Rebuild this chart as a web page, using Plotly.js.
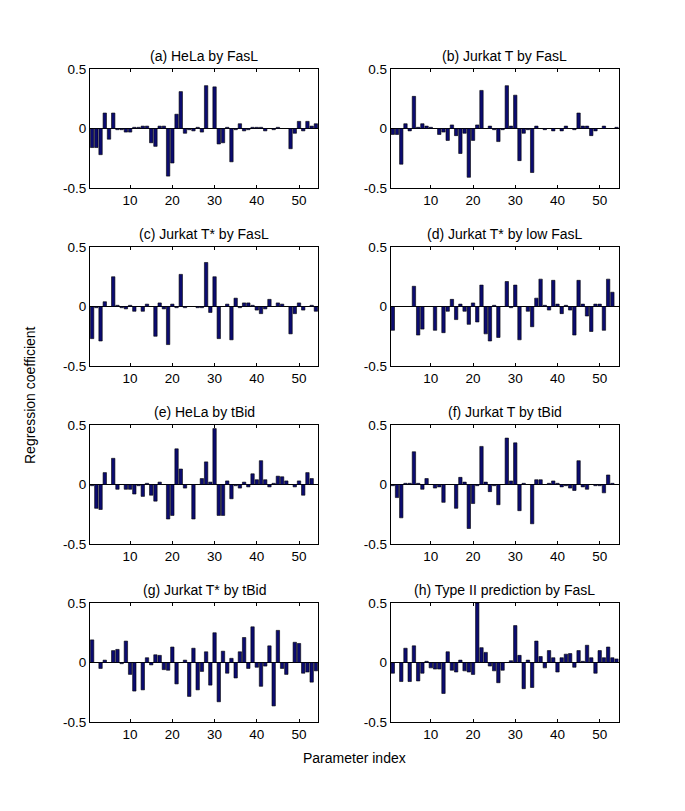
<!DOCTYPE html>
<html>
<head>
<meta charset="utf-8">
<script src="https://cdn.plot.ly/plotly-3.0.1.min.js"></script>
<style>html,body{margin:0;padding:0;background:#fff;}#chart{width:685px;height:811px;}</style>
</head>
<body>
<div id="chart"></div>
<script>
// Parameter indices 1..54
const paramIndex = Array.from({length: 54}, (_, i) => i + 1);

const titles = [
  "(a) HeLa by FasL", "(b) Jurkat T by FasL",
  "(c) Jurkat T* by FasL", "(d) Jurkat T* by low FasL",
  "(e) HeLa by tBid", "(f) Jurkat T by tBid",
  "(g) Jurkat T* by tBid", "(h) Type II prediction by FasL"
];

const helaFasL = [-0.16,-0.16,-0.22,0.13,-0.09,0.13,-0.01,-0.01,-0.03,-0.03,
  0.01,0.01,0.02,0.02,-0.12,-0.15,0.02,0.02,-0.40,-0.29,
  0.12,0.31,-0.04,-0.01,-0.02,0.01,-0.03,0.36,0.0,0.35,
  -0.13,-0.12,0.01,-0.28,-0.01,0.04,-0.02,-0.01,0.01,0.01,
  0.01,-0.02,0.0,-0.01,0.01,0.0,0.0,-0.17,-0.04,0.06,
  -0.02,0.06,0.02,0.04];

const jurkatFasL = [-0.05,-0.05,-0.30,0.04,-0.02,0.27,0.01,0.04,0.02,0.01,
  0.0,-0.05,-0.03,-0.10,0.03,-0.06,-0.21,-0.04,-0.41,-0.10,
  0.03,0.32,0.0,0.02,-0.01,-0.11,-0.01,0.36,0.02,0.28,
  -0.27,-0.04,-0.01,-0.37,0.02,0.0,-0.01,0.0,-0.02,0.0,
  -0.02,0.02,0.0,-0.01,0.13,0.02,0.02,-0.06,-0.02,0.0,
  0.02,0.0,0.0,0.01];

const jurkatStarFasL = [-0.27,-0.01,-0.29,0.04,0.0,0.25,0.01,-0.01,-0.02,0.01,
  -0.04,0.0,-0.04,0.02,0.0,-0.25,0.03,-0.02,-0.32,0.02,
  -0.01,0.27,-0.01,0.0,0.0,-0.01,-0.01,0.37,-0.05,0.25,
  -0.27,0.0,0.02,-0.28,0.07,-0.01,0.03,0.03,0.01,-0.03,
  -0.06,-0.02,0.06,0.0,0.03,0.02,0.0,-0.23,-0.06,0.03,
  -0.03,0.0,0.01,-0.04];

const jurkatStarLowFasL = [-0.20,0.0,0.0,0.0,0.0,0.17,-0.24,-0.19,0.0,0.0,
  -0.20,0.0,-0.22,-0.04,0.06,-0.11,0.02,-0.04,-0.15,0.03,
  -0.13,0.18,-0.23,-0.29,0.01,-0.26,0.0,0.21,-0.01,0.18,
  -0.28,0.0,-0.04,-0.17,0.07,0.23,0.01,-0.03,0.22,0.02,
  -0.06,0.01,-0.03,-0.24,0.22,0.02,-0.08,-0.21,0.02,0.02,
  -0.20,0.23,0.12,0.0];

const helaTBid = [-0.01,-0.20,-0.21,0.10,0.0,0.22,-0.04,0.0,-0.04,-0.04,
  -0.08,-0.01,-0.10,0.01,-0.09,-0.14,0.02,0.0,-0.29,-0.26,
  0.30,0.13,-0.03,0.0,-0.29,0.0,0.05,0.19,0.02,0.47,
  -0.26,-0.26,0.03,-0.12,-0.01,-0.03,0.02,-0.02,0.09,0.04,
  0.20,0.04,-0.02,0.01,0.07,0.065,0.03,0.0,-0.02,0.03,
  -0.09,0.10,0.05,0.0];

const jurkatTBid = [-0.01,-0.11,-0.28,0.01,0.01,0.275,0.01,-0.04,0.05,0.0,
  -0.03,-0.02,-0.15,0.0,0.0,-0.20,0.06,0.02,-0.37,-0.16,
  -0.01,0.32,0.02,-0.06,-0.01,-0.17,0.0,0.39,0.03,0.35,
  -0.22,0.01,0.0,-0.33,0.04,0.04,0.0,0.01,0.03,0.01,
  -0.02,-0.01,-0.03,-0.05,0.20,-0.02,-0.04,0.0,-0.01,-0.01,
  -0.07,0.08,0.01,0.0];

const jurkatStarTBid = [0.19,0.0,-0.05,0.02,0.0,0.10,0.11,-0.01,0.18,-0.10,
  -0.24,0.0,-0.23,0.04,-0.02,0.065,0.06,-0.06,-0.065,0.13,
  -0.18,0.0,0.02,-0.285,0.12,-0.23,-0.075,0.09,-0.19,0.25,
  -0.33,0.095,-0.09,0.035,-0.13,0.09,0.21,-0.05,0.30,-0.04,
  -0.20,-0.03,0.14,-0.365,0.27,-0.05,-0.10,0.0,0.17,0.16,
  -0.09,-0.08,-0.165,-0.07];

const typeIIFasL = [-0.09,0.0,-0.16,0.12,-0.16,0.14,-0.155,-0.09,0.01,-0.045,
  -0.055,-0.055,-0.26,0.09,-0.065,-0.08,0.02,-0.07,-0.08,-0.10,
  0.50,0.125,0.085,-0.03,-0.07,-0.17,-0.065,0.0,0.015,0.31,
  0.06,-0.22,0.02,-0.21,0.18,0.05,-0.045,0.10,0.04,-0.08,
  0.04,0.07,0.075,-0.04,0.10,0.01,0.145,0.04,-0.09,0.10,
  0.04,0.13,0.04,0.03];

const series = [helaFasL, jurkatFasL, jurkatStarFasL, jurkatStarLowFasL,
  helaTBid, jurkatTBid, jurkatStarTBid, typeIIFasL];

const xTicks = [10, 20, 30, 40, 50];
const yTicks = [-0.5, 0, 0.5];
const yTickText = ["-0.5", "0", "0.5"];

// ---- layout geometry (pixels) ----
const W = 685, H = 811;
const colLeft = [90, 390.7], colW = 228;
const rowTop = [69, 247, 425, 603], rowH = 119;

const FONT = "Liberation Sans, Arial, Helvetica, sans-serif";
const traces = [];
const layout = {
  width: W, height: H,
  margin: {l: 0, r: 0, t: 0, b: 0},
  paper_bgcolor: "#fff", plot_bgcolor: "#fff",
  showlegend: false,
  font: {family: FONT, size: 14, color: "#000"},
  annotations: []
};

series.forEach((vals, k) => {
  const r = Math.floor(k / 2), c = k % 2;
  const n = k + 1;
  const xa = n === 1 ? "x" : "x" + n;
  const ya = n === 1 ? "y" : "y" + n;
  traces.push({
    type: "bar", x: paramIndex, y: vals, xaxis: xa, yaxis: ya,
    width: 0.8,
    marker: {color: "#0b0b70", line: {color: "#000", width: 0.6}},
    hoverinfo: "x+y"
  });
  const x0 = colLeft[c] / W, x1 = (colLeft[c] + colW) / W;
  const yTop = rowTop[r], yBot = rowTop[r] + rowH;
  const y0 = 1 - yBot / H, y1 = 1 - yTop / H;
  layout["xaxis" + (n === 1 ? "" : n)] = {
    domain: [x0, x1], anchor: ya, range: [0.5, 54.5],
    tickvals: xTicks, ticks: "inside", ticklen: 3, tickcolor: "#000",
    showline: true, linecolor: "#000", linewidth: 1, mirror: "ticks",
    showgrid: false, zeroline: false, fixedrange: true,
    tickfont: {family: FONT, size: 13.5, color: "#000"}
  };
  layout["yaxis" + (n === 1 ? "" : n)] = {
    domain: [y0, y1], anchor: xa, range: [-0.5, 0.5],
    tickvals: yTicks, ticktext: yTickText, ticks: "inside", ticklen: 3, tickcolor: "#000",
    showline: true, linecolor: "#000", linewidth: 1, mirror: "ticks",
    showgrid: false, zeroline: true, zerolinecolor: "#000", zerolinewidth: 1,
    fixedrange: true,
    tickfont: {family: FONT, size: 13.5, color: "#000"}
  };
  layout.annotations.push({
    text: titles[k], xref: "paper", yref: "paper",
    x: (x0 + x1) / 2, y: 1 - (yTop - 3) / H,
    xanchor: "center", yanchor: "bottom", showarrow: false,
    font: {family: FONT, size: 14, color: "#000"}
  });
});

layout.annotations.push({
  text: "Regression coefficient", xref: "paper", yref: "paper",
  x: 30 / W, y: 1 - 395 / H, xanchor: "center", yanchor: "middle",
  textangle: -90, showarrow: false,
  font: {family: FONT, size: 14, color: "#000"}
});
layout.annotations.push({
  text: "Parameter index", xref: "paper", yref: "paper",
  x: 354 / W, y: 1 - 758 / H, xanchor: "center", yanchor: "middle",
  showarrow: false,
  font: {family: FONT, size: 14, color: "#000"}
});

Plotly.newPlot("chart", traces, layout, {displayModeBar: false, staticPlot: true});
</script>
</body>
</html>
